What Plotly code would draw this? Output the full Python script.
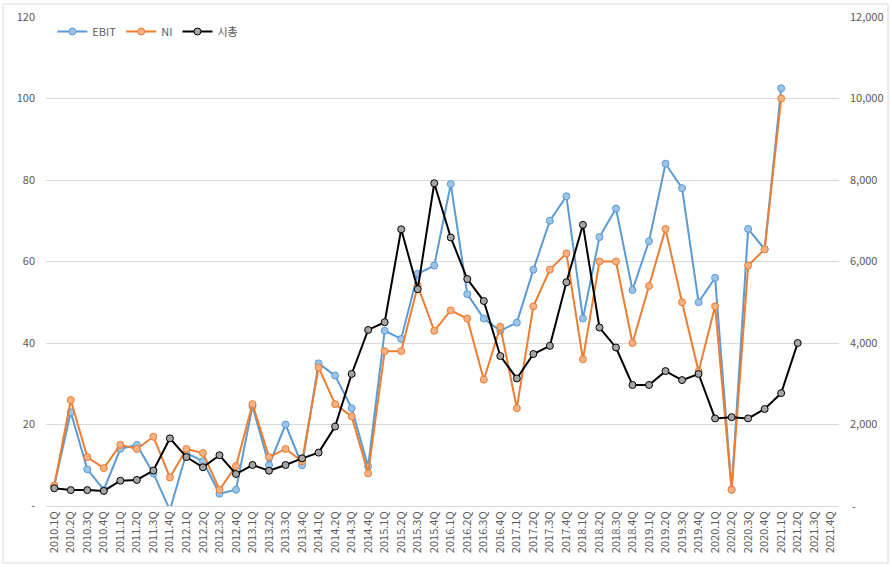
import plotly.graph_objects as go

quarters = [f"{y}.{q}Q" for y in range(2010, 2022) for q in range(1, 5)]

ebit = [5, 23, 9, 4, 14, 15, 8, -1, 13, 11, 3, 4,
        24.5, 10, 20, 10, 35, 32, 24, 9.7, 43, 41, 57, 59,
        79, 52, 46, 43, 45, 58, 70, 76, 46, 66, 73, 53,
        65, 84, 78, 50, 56, 4, 68, 63, 102.5, None, None, None]

ni = [5, 26, 12, 9.3, 15, 14, 17, 7, 14, 13, 4, 9.8,
      25, 12, 14, 11, 34, 25, 22, 8, 38, 38, 54, 43,
      48, 46, 31, 44, 24, 49, 58, 62, 36, 60, 60, 40,
      54, 68, 50, 33, 49, 4, 59, 63, 100, None, None, None]

mcap = [435, 390, 390, 370, 620, 640, 870, 1660, 1200, 950, 1245, 785,
        1006, 866, 1006, 1170, 1310, 1950, 3240, 4320, 4510, 6790, 5320, 7920,
        6590, 5570, 5030, 3680, 3130, 3730, 3930, 5490, 6900, 4380, 3890, 2970,
        2970, 3310, 3090, 3240, 2150, 2180, 2150, 2380, 2770, 4000, None, None]

left_ticks = [0, 20, 40, 60, 80, 100, 120]
left_text = ["-", "20", "40", "60", "80", "100", "120"]
right_ticks = [2000, 4000, 6000, 8000, 10000, 12000]
right_text = ["2,000", "4,000", "6,000", "8,000", "10,000", "12,000"]
right_zero_text = "-"

FONT = "Noto Sans CJK KR"
GRAY = "#595959"

fig = go.Figure()
fig.add_trace(go.Scatter(
    x=quarters, y=ebit, name="EBIT", mode="lines+markers",
    line=dict(color="#5B9BD5", width=2),
    marker=dict(size=7, color="#9DC3E6", line=dict(color="#5B9BD5", width=1)),
))
fig.add_trace(go.Scatter(
    x=quarters, y=ni, name="NI", mode="lines+markers",
    line=dict(color="#ED7D31", width=2),
    marker=dict(size=7, color="#F4B183", line=dict(color="#ED7D31", width=1)),
))
fig.add_trace(go.Scatter(
    x=quarters, y=mcap, name="시총", mode="lines+markers", yaxis="y2",
    line=dict(color="#000000", width=2),
    marker=dict(size=7, color="#A5A5A5", line=dict(color="#000000", width=1)),
))

W, H = 892, 567
ml, mr, mt, mb = 46, 53, 17, 61
pw, ph = W - ml - mr, H - mt - mb

fig.update_layout(
    width=W, height=H,
    margin=dict(l=ml, r=mr, t=mt, b=mb, autoexpand=False),
    paper_bgcolor="white", plot_bgcolor="white",
    font=dict(family=FONT, size=11, color=GRAY),
    showlegend=True,
    legend=dict(orientation="h", x=0.008, y=1.0, xanchor="left", yanchor="top",
                bgcolor="rgba(0,0,0,0)", font=dict(size=11, color=GRAY),
                tracegroupgap=0),
    xaxis=dict(type="category", tickangle=-90, showgrid=False, automargin=False,
               categoryorder="array", categoryarray=quarters,
               range=[-0.5, len(quarters) - 0.5],
               showline=True, linecolor="#D9D9D9", linewidth=1,
               ticks="", tickfont=dict(size=11, color=GRAY)),
    yaxis=dict(range=[0, 120], tickvals=left_ticks, ticktext=left_text,
               automargin=False, ticklabelstandoff=10,
               showgrid=True, gridcolor="#D9D9D9", gridwidth=1,
               zeroline=False, showline=False, ticks="",
               tickfont=dict(size=11, color=GRAY)),
    yaxis2=dict(range=[0, 12000], tickvals=right_ticks, ticktext=right_text,
                automargin=False, ticklabelstandoff=10,
                overlaying="y", side="right", showgrid=False, zeroline=False,
                showline=False, ticks="", tickfont=dict(size=11, color=GRAY)),
    hovermode=False,
)

# zero label of the right axis ("-"), as Excel shows it
fig.add_annotation(xref="paper", yref="y2", x=1, y=0, text=right_zero_text,
                   showarrow=False, xanchor="left", yanchor="middle", xshift=11,
                   font=dict(size=11, color=GRAY, family=FONT))

# chart border (Excel chart area outline)
fig.add_shape(type="rect", xref="paper", yref="paper",
              x0=(3 - ml) / pw, x1=(888 - ml) / pw,
              y0=1 - (563 - mt) / ph, y1=1 - (4 - mt) / ph,
              line=dict(color="#D9D9D9", width=1), fillcolor="rgba(0,0,0,0)",
              layer="below")

fig.write_html("out.html", config={"displayModeBar": False},
               post_script="document.body.style.margin='0';document.body.style.overflow='hidden';")
